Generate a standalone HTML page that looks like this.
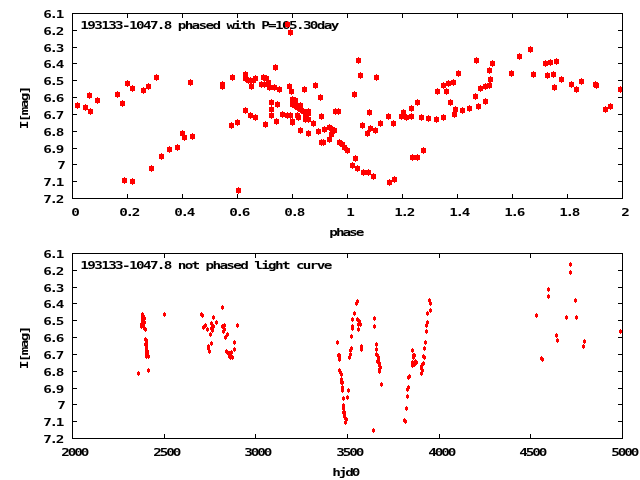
<!DOCTYPE html>
<html><head><meta charset="utf-8"><title>193133-1047.8 light curve</title>
<style>
html,body{margin:0;padding:0;background:#fff;}
svg{display:block;}
text{font-family:"DejaVu Sans Mono","Liberation Mono",monospace;font-weight:bold;font-size:11.0px;fill:#000;}
</style></head>
<body>
<svg width="640" height="480" viewBox="0 0 640 480" shape-rendering="crispEdges">
<rect width="640" height="480" fill="#fff"/>
<g fill="#000">
<rect x="72" y="13" width="551" height="1"/>
<rect x="72" y="198" width="551" height="1"/>
<rect x="72" y="13" width="1" height="186"/>
<rect x="622" y="13" width="1" height="186"/>
<rect x="72" y="30" width="5" height="1"/>
<rect x="618" y="30" width="5" height="1"/>
<rect x="72" y="47" width="5" height="1"/>
<rect x="618" y="47" width="5" height="1"/>
<rect x="72" y="63" width="5" height="1"/>
<rect x="618" y="63" width="5" height="1"/>
<rect x="72" y="80" width="5" height="1"/>
<rect x="618" y="80" width="5" height="1"/>
<rect x="72" y="97" width="5" height="1"/>
<rect x="618" y="97" width="5" height="1"/>
<rect x="72" y="114" width="5" height="1"/>
<rect x="618" y="114" width="5" height="1"/>
<rect x="72" y="131" width="5" height="1"/>
<rect x="618" y="131" width="5" height="1"/>
<rect x="72" y="148" width="5" height="1"/>
<rect x="618" y="148" width="5" height="1"/>
<rect x="72" y="164" width="5" height="1"/>
<rect x="618" y="164" width="5" height="1"/>
<rect x="72" y="181" width="5" height="1"/>
<rect x="618" y="181" width="5" height="1"/>
<rect x="127" y="194" width="1" height="5"/>
<rect x="127" y="13" width="1" height="5"/>
<rect x="182" y="194" width="1" height="5"/>
<rect x="182" y="13" width="1" height="5"/>
<rect x="237" y="194" width="1" height="5"/>
<rect x="237" y="13" width="1" height="5"/>
<rect x="292" y="194" width="1" height="5"/>
<rect x="292" y="13" width="1" height="5"/>
<rect x="347" y="194" width="1" height="5"/>
<rect x="347" y="13" width="1" height="5"/>
<rect x="402" y="194" width="1" height="5"/>
<rect x="402" y="13" width="1" height="5"/>
<rect x="457" y="194" width="1" height="5"/>
<rect x="457" y="13" width="1" height="5"/>
<rect x="512" y="194" width="1" height="5"/>
<rect x="512" y="13" width="1" height="5"/>
<rect x="567" y="194" width="1" height="5"/>
<rect x="567" y="13" width="1" height="5"/>
<rect x="72" y="253" width="551" height="1"/>
<rect x="72" y="438" width="551" height="1"/>
<rect x="72" y="253" width="1" height="186"/>
<rect x="622" y="253" width="1" height="186"/>
<rect x="72" y="270" width="5" height="1"/>
<rect x="618" y="270" width="5" height="1"/>
<rect x="72" y="287" width="5" height="1"/>
<rect x="618" y="287" width="5" height="1"/>
<rect x="72" y="303" width="5" height="1"/>
<rect x="618" y="303" width="5" height="1"/>
<rect x="72" y="320" width="5" height="1"/>
<rect x="618" y="320" width="5" height="1"/>
<rect x="72" y="337" width="5" height="1"/>
<rect x="618" y="337" width="5" height="1"/>
<rect x="72" y="354" width="5" height="1"/>
<rect x="618" y="354" width="5" height="1"/>
<rect x="72" y="371" width="5" height="1"/>
<rect x="618" y="371" width="5" height="1"/>
<rect x="72" y="388" width="5" height="1"/>
<rect x="618" y="388" width="5" height="1"/>
<rect x="72" y="404" width="5" height="1"/>
<rect x="618" y="404" width="5" height="1"/>
<rect x="72" y="421" width="5" height="1"/>
<rect x="618" y="421" width="5" height="1"/>
<rect x="164" y="434" width="1" height="5"/>
<rect x="164" y="253" width="1" height="5"/>
<rect x="255" y="434" width="1" height="5"/>
<rect x="255" y="253" width="1" height="5"/>
<rect x="347" y="434" width="1" height="5"/>
<rect x="347" y="253" width="1" height="5"/>
<rect x="439" y="434" width="1" height="5"/>
<rect x="439" y="253" width="1" height="5"/>
<rect x="530" y="434" width="1" height="5"/>
<rect x="530" y="253" width="1" height="5"/>
</g>
<g>
<text transform="translate(43.349999999999994,18.4) scale(1.3,1)" textLength="16.15" lengthAdjust="spacing">6.1</text>
<text transform="translate(43.349999999999994,35.4) scale(1.3,1)" textLength="16.15" lengthAdjust="spacing">6.2</text>
<text transform="translate(43.349999999999994,52.4) scale(1.3,1)" textLength="16.15" lengthAdjust="spacing">6.3</text>
<text transform="translate(43.349999999999994,68.4) scale(1.3,1)" textLength="16.15" lengthAdjust="spacing">6.4</text>
<text transform="translate(43.349999999999994,85.4) scale(1.3,1)" textLength="16.15" lengthAdjust="spacing">6.5</text>
<text transform="translate(43.349999999999994,102.4) scale(1.3,1)" textLength="16.15" lengthAdjust="spacing">6.6</text>
<text transform="translate(43.349999999999994,119.4) scale(1.3,1)" textLength="16.15" lengthAdjust="spacing">6.7</text>
<text transform="translate(43.349999999999994,136.4) scale(1.3,1)" textLength="16.15" lengthAdjust="spacing">6.8</text>
<text transform="translate(43.349999999999994,153.4) scale(1.3,1)" textLength="16.15" lengthAdjust="spacing">6.9</text>
<text transform="translate(57.349999999999994,169.4) scale(1.3,1)" textLength="5.38" lengthAdjust="spacing">7</text>
<text transform="translate(43.349999999999994,186.4) scale(1.3,1)" textLength="16.15" lengthAdjust="spacing">7.1</text>
<text transform="translate(43.349999999999994,203.4) scale(1.3,1)" textLength="16.15" lengthAdjust="spacing">7.2</text>
<text transform="translate(43.349999999999994,258.4) scale(1.3,1)" textLength="16.15" lengthAdjust="spacing">6.1</text>
<text transform="translate(43.349999999999994,275.4) scale(1.3,1)" textLength="16.15" lengthAdjust="spacing">6.2</text>
<text transform="translate(43.349999999999994,292.4) scale(1.3,1)" textLength="16.15" lengthAdjust="spacing">6.3</text>
<text transform="translate(43.349999999999994,308.4) scale(1.3,1)" textLength="16.15" lengthAdjust="spacing">6.4</text>
<text transform="translate(43.349999999999994,325.4) scale(1.3,1)" textLength="16.15" lengthAdjust="spacing">6.5</text>
<text transform="translate(43.349999999999994,342.4) scale(1.3,1)" textLength="16.15" lengthAdjust="spacing">6.6</text>
<text transform="translate(43.349999999999994,359.4) scale(1.3,1)" textLength="16.15" lengthAdjust="spacing">6.7</text>
<text transform="translate(43.349999999999994,376.4) scale(1.3,1)" textLength="16.15" lengthAdjust="spacing">6.8</text>
<text transform="translate(43.349999999999994,393.4) scale(1.3,1)" textLength="16.15" lengthAdjust="spacing">6.9</text>
<text transform="translate(57.349999999999994,409.4) scale(1.3,1)" textLength="5.38" lengthAdjust="spacing">7</text>
<text transform="translate(43.349999999999994,426.4) scale(1.3,1)" textLength="16.15" lengthAdjust="spacing">7.1</text>
<text transform="translate(43.349999999999994,443.4) scale(1.3,1)" textLength="16.15" lengthAdjust="spacing">7.2</text>
<text transform="translate(71.35,216.4) scale(1.3,1)" textLength="5.38" lengthAdjust="spacing">0</text>
<text transform="translate(119.35,216.4) scale(1.3,1)" textLength="16.15" lengthAdjust="spacing">0.2</text>
<text transform="translate(174.35,216.4) scale(1.3,1)" textLength="16.15" lengthAdjust="spacing">0.4</text>
<text transform="translate(229.35,216.4) scale(1.3,1)" textLength="16.15" lengthAdjust="spacing">0.6</text>
<text transform="translate(284.35,216.4) scale(1.3,1)" textLength="16.15" lengthAdjust="spacing">0.8</text>
<text transform="translate(346.35,216.4) scale(1.3,1)" textLength="5.38" lengthAdjust="spacing">1</text>
<text transform="translate(394.35,216.4) scale(1.3,1)" textLength="16.15" lengthAdjust="spacing">1.2</text>
<text transform="translate(449.35,216.4) scale(1.3,1)" textLength="16.15" lengthAdjust="spacing">1.4</text>
<text transform="translate(504.35,216.4) scale(1.3,1)" textLength="16.15" lengthAdjust="spacing">1.6</text>
<text transform="translate(559.35,216.4) scale(1.3,1)" textLength="16.15" lengthAdjust="spacing">1.8</text>
<text transform="translate(621.35,216.4) scale(1.3,1)" textLength="5.38" lengthAdjust="spacing">2</text>
<text transform="translate(61.35,456.4) scale(1.3,1)" textLength="21.54" lengthAdjust="spacing">2000</text>
<text transform="translate(153.35,456.4) scale(1.3,1)" textLength="21.54" lengthAdjust="spacing">2500</text>
<text transform="translate(244.35,456.4) scale(1.3,1)" textLength="21.54" lengthAdjust="spacing">3000</text>
<text transform="translate(336.35,456.4) scale(1.3,1)" textLength="21.54" lengthAdjust="spacing">3500</text>
<text transform="translate(428.35,456.4) scale(1.3,1)" textLength="21.54" lengthAdjust="spacing">4000</text>
<text transform="translate(519.35,456.4) scale(1.3,1)" textLength="21.54" lengthAdjust="spacing">4500</text>
<text transform="translate(611.35,456.4) scale(1.3,1)" textLength="21.54" lengthAdjust="spacing">5000</text>
<text transform="translate(80.35,28.9) scale(1.3,1)" textLength="199.23" lengthAdjust="spacing">193133-1047.8 phased with P=105.30day</text>
<text transform="translate(80.35,268.9) scale(1.3,1)" textLength="193.85" lengthAdjust="spacing">193133-1047.8 not phased light curve</text>
<text transform="translate(329.35,235.9) scale(1.3,1)" textLength="26.92" lengthAdjust="spacing">phase</text>
<text transform="translate(332.35,475.9) scale(1.3,1)" textLength="21.54" lengthAdjust="spacing">hjd0</text>
<text transform="translate(28,129.2) rotate(-90) scale(1.3,1)" textLength="33.54" lengthAdjust="spacing">I[mag]</text>
<text transform="translate(28,369.2) rotate(-90) scale(1.3,1)" textLength="33.54" lengthAdjust="spacing">I[mag]</text>
</g>
<path fill="#f00" d="M75 103h5v5h-5zM77 102h1v7h-1zM83 105h5v5h-5zM85 104h1v7h-1zM87 93h5v5h-5zM89 92h1v7h-1zM88 109h5v5h-5zM90 108h1v7h-1zM95 98h5v5h-5zM97 97h1v7h-1zM115 92h5v5h-5zM117 91h1v7h-1zM120 101h5v5h-5zM122 100h1v7h-1zM125 81h5v5h-5zM127 80h1v7h-1zM130 86h5v5h-5zM132 85h1v7h-1zM141 88h5v5h-5zM143 87h1v7h-1zM146 84h5v5h-5zM148 83h1v7h-1zM154 75h5v5h-5zM156 74h1v7h-1zM188 80h5v5h-5zM190 79h1v7h-1zM220 82h5v5h-5zM222 81h1v7h-1zM220 84h5v5h-5zM222 83h1v7h-1zM230 75h5v5h-5zM232 74h1v7h-1zM122 178h5v5h-5zM124 177h1v7h-1zM130 179h5v5h-5zM132 178h1v7h-1zM149 166h5v5h-5zM151 165h1v7h-1zM159 154h5v5h-5zM161 153h1v7h-1zM167 147h5v5h-5zM169 146h1v7h-1zM175 145h5v5h-5zM177 144h1v7h-1zM180 131h5v5h-5zM182 130h1v7h-1zM182 135h5v5h-5zM184 134h1v7h-1zM190 134h5v5h-5zM192 133h1v7h-1zM229 123h5v5h-5zM231 122h1v7h-1zM235 120h5v5h-5zM237 119h1v7h-1zM236 188h5v5h-5zM238 187h1v7h-1zM243 72h5v5h-5zM245 71h1v7h-1zM243 76h5v5h-5zM245 75h1v7h-1zM246 78h5v5h-5zM248 77h1v7h-1zM248 78h5v5h-5zM250 77h1v7h-1zM251 78h5v5h-5zM253 77h1v7h-1zM253 76h5v5h-5zM255 75h1v7h-1zM249 84h5v5h-5zM251 83h1v7h-1zM261 75h5v5h-5zM263 74h1v7h-1zM264 76h5v5h-5zM266 75h1v7h-1zM259 82h5v5h-5zM261 81h1v7h-1zM262 82h5v5h-5zM264 81h1v7h-1zM266 80h5v5h-5zM268 79h1v7h-1zM267 85h5v5h-5zM269 84h1v7h-1zM272 85h5v5h-5zM274 84h1v7h-1zM277 87h5v5h-5zM279 86h1v7h-1zM273 65h5v5h-5zM275 64h1v7h-1zM287 84h5v5h-5zM289 83h1v7h-1zM289 89h5v5h-5zM291 88h1v7h-1zM302 87h5v5h-5zM304 86h1v7h-1zM313 83h5v5h-5zM315 82h1v7h-1zM243 108h5v5h-5zM245 107h1v7h-1zM248 113h5v5h-5zM250 112h1v7h-1zM253 115h5v5h-5zM255 114h1v7h-1zM263 122h5v5h-5zM265 121h1v7h-1zM274 119h5v5h-5zM276 118h1v7h-1zM269 100h5v5h-5zM271 99h1v7h-1zM269 107h5v5h-5zM271 106h1v7h-1zM269 113h5v5h-5zM271 112h1v7h-1zM275 102h5v5h-5zM277 101h1v7h-1zM280 112h5v5h-5zM282 111h1v7h-1zM285 113h5v5h-5zM287 112h1v7h-1zM288 113h5v5h-5zM290 112h1v7h-1zM290 119h5v5h-5zM292 118h1v7h-1zM290 120h5v5h-5zM292 119h1v7h-1zM295 113h5v5h-5zM297 112h1v7h-1zM296 115h5v5h-5zM298 114h1v7h-1zM290 97h5v5h-5zM292 96h1v7h-1zM293 98h5v5h-5zM295 97h1v7h-1zM290 102h5v5h-5zM292 101h1v7h-1zM298 103h5v5h-5zM300 102h1v7h-1zM306 109h5v5h-5zM308 108h1v7h-1zM306 111h5v5h-5zM308 110h1v7h-1zM303 117h5v5h-5zM305 116h1v7h-1zM306 117h5v5h-5zM308 116h1v7h-1zM292 103h5v5h-5zM294 102h1v7h-1zM293 102h5v5h-5zM295 101h1v7h-1zM295 105h5v5h-5zM297 104h1v7h-1zM298 107h5v5h-5zM300 106h1v7h-1zM301 109h5v5h-5zM303 108h1v7h-1zM303 113h5v5h-5zM305 112h1v7h-1zM318 95h5v5h-5zM320 94h1v7h-1zM319 114h5v5h-5zM321 113h1v7h-1zM311 121h5v5h-5zM313 120h1v7h-1zM298 128h5v5h-5zM300 127h1v7h-1zM306 131h5v5h-5zM308 130h1v7h-1zM316 129h5v5h-5zM318 128h1v7h-1zM322 127h5v5h-5zM324 126h1v7h-1zM319 140h5v5h-5zM321 139h1v7h-1zM321 140h5v5h-5zM323 139h1v7h-1zM327 125h5v5h-5zM329 124h1v7h-1zM330 127h5v5h-5zM332 126h1v7h-1zM332 128h5v5h-5zM334 127h1v7h-1zM329 132h5v5h-5zM331 131h1v7h-1zM327 137h5v5h-5zM329 136h1v7h-1zM337 140h5v5h-5zM339 139h1v7h-1zM340 142h5v5h-5zM342 141h1v7h-1zM342 145h5v5h-5zM344 144h1v7h-1zM345 148h5v5h-5zM347 147h1v7h-1zM353 156h5v5h-5zM355 155h1v7h-1zM350 163h5v5h-5zM352 162h1v7h-1zM355 166h5v5h-5zM357 165h1v7h-1zM361 170h5v5h-5zM363 169h1v7h-1zM366 170h5v5h-5zM368 169h1v7h-1zM371 174h5v5h-5zM373 173h1v7h-1zM387 180h5v5h-5zM389 179h1v7h-1zM392 177h5v5h-5zM394 176h1v7h-1zM285 22h5v5h-5zM287 21h1v7h-1zM288 30h5v5h-5zM290 29h1v7h-1zM356 58h5v5h-5zM358 57h1v7h-1zM358 73h5v5h-5zM360 72h1v7h-1zM374 75h5v5h-5zM376 74h1v7h-1zM352 92h5v5h-5zM354 91h1v7h-1zM333 109h5v5h-5zM335 108h1v7h-1zM336 109h5v5h-5zM338 108h1v7h-1zM367 110h5v5h-5zM369 109h1v7h-1zM386 114h5v5h-5zM388 113h1v7h-1zM360 123h5v5h-5zM362 122h1v7h-1zM378 121h5v5h-5zM380 120h1v7h-1zM391 121h5v5h-5zM393 120h1v7h-1zM368 126h5v5h-5zM370 125h1v7h-1zM373 128h5v5h-5zM375 127h1v7h-1zM365 131h5v5h-5zM367 130h1v7h-1zM410 155h5v5h-5zM412 154h1v7h-1zM415 155h5v5h-5zM417 154h1v7h-1zM421 148h5v5h-5zM423 147h1v7h-1zM474 58h5v5h-5zM476 57h1v7h-1zM456 71h5v5h-5zM458 70h1v7h-1zM441 83h5v5h-5zM443 82h1v7h-1zM446 81h5v5h-5zM448 80h1v7h-1zM451 80h5v5h-5zM453 79h1v7h-1zM435 89h5v5h-5zM437 88h1v7h-1zM444 89h5v5h-5zM446 88h1v7h-1zM415 100h5v5h-5zM417 99h1v7h-1zM448 100h5v5h-5zM450 99h1v7h-1zM409 106h5v5h-5zM411 105h1v7h-1zM401 110h5v5h-5zM403 109h1v7h-1zM473 94h5v5h-5zM475 93h1v7h-1zM478 86h5v5h-5zM480 85h1v7h-1zM453 107h5v5h-5zM455 106h1v7h-1zM460 108h5v5h-5zM462 107h1v7h-1zM467 106h5v5h-5zM469 105h1v7h-1zM476 104h5v5h-5zM478 103h1v7h-1zM452 112h5v5h-5zM454 111h1v7h-1zM441 115h5v5h-5zM443 114h1v7h-1zM434 117h5v5h-5zM436 116h1v7h-1zM426 116h5v5h-5zM428 115h1v7h-1zM419 115h5v5h-5zM421 114h1v7h-1zM399 114h5v5h-5zM401 113h1v7h-1zM404 115h5v5h-5zM406 114h1v7h-1zM409 114h5v5h-5zM411 113h1v7h-1zM490 61h5v5h-5zM492 60h1v7h-1zM487 68h5v5h-5zM489 67h1v7h-1zM488 77h5v5h-5zM490 76h1v7h-1zM483 84h5v5h-5zM485 83h1v7h-1zM487 83h5v5h-5zM489 82h1v7h-1zM509 71h5v5h-5zM511 70h1v7h-1zM517 54h5v5h-5zM519 53h1v7h-1zM528 47h5v5h-5zM530 46h1v7h-1zM531 72h5v5h-5zM533 71h1v7h-1zM543 61h5v5h-5zM545 60h1v7h-1zM548 60h5v5h-5zM550 59h1v7h-1zM545 73h5v5h-5zM547 72h1v7h-1zM554 59h5v5h-5zM556 58h1v7h-1zM551 72h5v5h-5zM553 71h1v7h-1zM559 77h5v5h-5zM561 76h1v7h-1zM552 85h5v5h-5zM554 84h1v7h-1zM569 82h5v5h-5zM571 81h1v7h-1zM574 87h5v5h-5zM576 86h1v7h-1zM579 79h5v5h-5zM581 78h1v7h-1zM593 82h5v5h-5zM595 81h1v7h-1zM594 83h5v5h-5zM596 82h1v7h-1zM618 87h5v5h-5zM620 86h1v7h-1zM603 107h5v5h-5zM605 106h1v7h-1zM608 104h5v5h-5zM610 103h1v7h-1zM483 99h5v5h-5zM485 98h1v7h-1z"/>
<path fill="#f00" d="M141 313h3v3h-3zM142 312h1v5h-1zM141 315h3v3h-3zM142 314h1v5h-1zM142 315h3v3h-3zM143 314h1v5h-1zM141 317h3v3h-3zM142 316h1v5h-1zM143 317h3v3h-3zM144 316h1v5h-1zM141 320h3v3h-3zM142 319h1v5h-1zM143 321h3v3h-3zM144 320h1v5h-1zM140 323h3v3h-3zM141 322h1v5h-1zM142 323h3v3h-3zM143 322h1v5h-1zM140 325h3v3h-3zM141 324h1v5h-1zM142 325h3v3h-3zM143 324h1v5h-1zM143 327h3v3h-3zM144 326h1v5h-1zM144 328h3v3h-3zM145 327h1v5h-1zM144 338h3v3h-3zM145 337h1v5h-1zM145 339h3v3h-3zM146 338h1v5h-1zM145 341h3v3h-3zM146 340h1v5h-1zM144 343h3v3h-3zM145 342h1v5h-1zM145 343h3v3h-3zM146 342h1v5h-1zM145 345h3v3h-3zM146 344h1v5h-1zM145 347h3v3h-3zM146 346h1v5h-1zM145 348h3v3h-3zM146 347h1v5h-1zM146 350h3v3h-3zM147 349h1v5h-1zM145 350h3v3h-3zM146 349h1v5h-1zM146 352h3v3h-3zM147 351h1v5h-1zM145 352h3v3h-3zM146 351h1v5h-1zM146 354h3v3h-3zM147 353h1v5h-1zM145 355h3v3h-3zM146 354h1v5h-1zM147 355h3v3h-3zM148 354h1v5h-1zM163 313h3v3h-3zM164 312h1v5h-1zM137 372h3v3h-3zM138 371h1v5h-1zM147 369h3v3h-3zM148 368h1v5h-1zM221 306h3v3h-3zM222 305h1v5h-1zM200 313h3v3h-3zM201 312h1v5h-1zM201 314h3v3h-3zM202 313h1v5h-1zM212 316h3v3h-3zM213 315h1v5h-1zM215 321h3v3h-3zM216 320h1v5h-1zM236 324h3v3h-3zM237 323h1v5h-1zM204 324h3v3h-3zM205 323h1v5h-1zM202 326h3v3h-3zM203 325h1v5h-1zM206 328h3v3h-3zM207 327h1v5h-1zM210 322h3v3h-3zM211 321h1v5h-1zM212 325h3v3h-3zM213 324h1v5h-1zM210 327h3v3h-3zM211 326h1v5h-1zM211 329h3v3h-3zM212 328h1v5h-1zM209 333h3v3h-3zM210 332h1v5h-1zM221 325h3v3h-3zM222 324h1v5h-1zM223 324h3v3h-3zM224 323h1v5h-1zM223 328h3v3h-3zM224 327h1v5h-1zM222 330h3v3h-3zM223 329h1v5h-1zM226 333h3v3h-3zM227 332h1v5h-1zM224 336h3v3h-3zM225 335h1v5h-1zM210 342h3v3h-3zM211 341h1v5h-1zM207 345h3v3h-3zM208 344h1v5h-1zM207 347h3v3h-3zM208 346h1v5h-1zM208 350h3v3h-3zM209 349h1v5h-1zM233 341h3v3h-3zM234 340h1v5h-1zM233 348h3v3h-3zM234 347h1v5h-1zM225 350h3v3h-3zM226 349h1v5h-1zM226 351h3v3h-3zM227 350h1v5h-1zM228 352h3v3h-3zM229 351h1v5h-1zM230 351h3v3h-3zM231 350h1v5h-1zM228 355h3v3h-3zM229 354h1v5h-1zM229 354h3v3h-3zM230 353h1v5h-1zM229 356h3v3h-3zM230 355h1v5h-1zM231 356h3v3h-3zM232 355h1v5h-1zM356 300h3v3h-3zM357 299h1v5h-1zM355 302h3v3h-3zM356 301h1v5h-1zM353 312h3v3h-3zM354 311h1v5h-1zM351 318h3v3h-3zM352 317h1v5h-1zM351 325h3v3h-3zM352 324h1v5h-1zM351 327h3v3h-3zM352 326h1v5h-1zM356 318h3v3h-3zM357 317h1v5h-1zM358 320h3v3h-3zM359 319h1v5h-1zM357 323h3v3h-3zM358 322h1v5h-1zM359 323h3v3h-3zM360 322h1v5h-1zM357 328h3v3h-3zM358 327h1v5h-1zM373 317h3v3h-3zM374 316h1v5h-1zM373 325h3v3h-3zM374 324h1v5h-1zM350 335h3v3h-3zM351 334h1v5h-1zM336 341h3v3h-3zM337 340h1v5h-1zM360 345h3v3h-3zM361 344h1v5h-1zM360 348h3v3h-3zM361 347h1v5h-1zM350 347h3v3h-3zM351 346h1v5h-1zM349 349h3v3h-3zM350 348h1v5h-1zM349 353h3v3h-3zM350 352h1v5h-1zM348 356h3v3h-3zM349 355h1v5h-1zM337 354h3v3h-3zM338 353h1v5h-1zM338 354h3v3h-3zM339 353h1v5h-1zM338 356h3v3h-3zM339 355h1v5h-1zM338 358h3v3h-3zM339 357h1v5h-1zM338 369h3v3h-3zM339 368h1v5h-1zM339 371h3v3h-3zM340 370h1v5h-1zM340 373h3v3h-3zM341 372h1v5h-1zM375 343h3v3h-3zM376 342h1v5h-1zM375 348h3v3h-3zM376 347h1v5h-1zM375 353h3v3h-3zM376 352h1v5h-1zM376 354h3v3h-3zM377 353h1v5h-1zM377 356h3v3h-3zM378 355h1v5h-1zM377 358h3v3h-3zM378 357h1v5h-1zM376 360h3v3h-3zM377 359h1v5h-1zM377 360h3v3h-3zM378 359h1v5h-1zM378 362h3v3h-3zM379 361h1v5h-1zM378 364h3v3h-3zM379 363h1v5h-1zM379 366h3v3h-3zM380 365h1v5h-1zM378 368h3v3h-3zM379 367h1v5h-1zM378 370h3v3h-3zM379 369h1v5h-1zM340 378h3v3h-3zM341 377h1v5h-1zM340 381h3v3h-3zM341 380h1v5h-1zM341 381h3v3h-3zM342 380h1v5h-1zM341 386h3v3h-3zM342 385h1v5h-1zM341 389h3v3h-3zM342 388h1v5h-1zM347 389h3v3h-3zM348 388h1v5h-1zM342 397h3v3h-3zM343 396h1v5h-1zM346 396h3v3h-3zM347 395h1v5h-1zM342 404h3v3h-3zM343 403h1v5h-1zM342 407h3v3h-3zM343 406h1v5h-1zM380 383h3v3h-3zM381 382h1v5h-1zM342 411h3v3h-3zM343 410h1v5h-1zM343 411h3v3h-3zM344 410h1v5h-1zM343 414h3v3h-3zM344 413h1v5h-1zM343 415h3v3h-3zM344 414h1v5h-1zM344 417h3v3h-3zM345 416h1v5h-1zM345 418h3v3h-3zM346 417h1v5h-1zM344 421h3v3h-3zM345 420h1v5h-1zM372 429h3v3h-3zM373 428h1v5h-1zM428 299h3v3h-3zM429 298h1v5h-1zM429 302h3v3h-3zM430 301h1v5h-1zM429 309h3v3h-3zM430 308h1v5h-1zM426 312h3v3h-3zM427 311h1v5h-1zM426 321h3v3h-3zM427 320h1v5h-1zM425 324h3v3h-3zM426 323h1v5h-1zM425 330h3v3h-3zM426 329h1v5h-1zM424 341h3v3h-3zM425 340h1v5h-1zM423 347h3v3h-3zM424 346h1v5h-1zM422 355h3v3h-3zM423 354h1v5h-1zM423 356h3v3h-3zM424 355h1v5h-1zM411 349h3v3h-3zM412 348h1v5h-1zM412 354h3v3h-3zM413 353h1v5h-1zM413 354h3v3h-3zM414 353h1v5h-1zM412 356h3v3h-3zM413 355h1v5h-1zM411 361h3v3h-3zM412 360h1v5h-1zM413 361h3v3h-3zM414 360h1v5h-1zM415 361h3v3h-3zM416 360h1v5h-1zM414 360h3v3h-3zM415 359h1v5h-1zM414 362h3v3h-3zM415 361h1v5h-1zM411 364h3v3h-3zM412 363h1v5h-1zM413 363h3v3h-3zM414 362h1v5h-1zM422 362h3v3h-3zM423 361h1v5h-1zM421 363h3v3h-3zM422 362h1v5h-1zM420 365h3v3h-3zM421 364h1v5h-1zM420 367h3v3h-3zM421 366h1v5h-1zM421 369h3v3h-3zM422 368h1v5h-1zM420 372h3v3h-3zM421 371h1v5h-1zM408 375h3v3h-3zM409 374h1v5h-1zM407 376h3v3h-3zM408 375h1v5h-1zM407 386h3v3h-3zM408 385h1v5h-1zM406 388h3v3h-3zM407 387h1v5h-1zM406 395h3v3h-3zM407 394h1v5h-1zM405 407h3v3h-3zM406 406h1v5h-1zM403 419h3v3h-3zM404 418h1v5h-1zM404 420h3v3h-3zM405 419h1v5h-1zM569 263h3v3h-3zM570 262h1v5h-1zM569 271h3v3h-3zM570 270h1v5h-1zM547 288h3v3h-3zM548 287h1v5h-1zM547 295h3v3h-3zM548 294h1v5h-1zM574 299h3v3h-3zM575 298h1v5h-1zM535 314h3v3h-3zM536 313h1v5h-1zM565 316h3v3h-3zM566 315h1v5h-1zM575 316h3v3h-3zM576 315h1v5h-1zM555 334h3v3h-3zM556 333h1v5h-1zM556 339h3v3h-3zM557 338h1v5h-1zM583 340h3v3h-3zM584 339h1v5h-1zM582 345h3v3h-3zM583 344h1v5h-1zM540 357h3v3h-3zM541 356h1v5h-1zM541 358h3v3h-3zM542 357h1v5h-1zM619 330h3v3h-3zM620 329h1v5h-1z"/>
<rect x="622" y="13" width="1" height="186" fill="#000"/>
</svg>
</body></html>
